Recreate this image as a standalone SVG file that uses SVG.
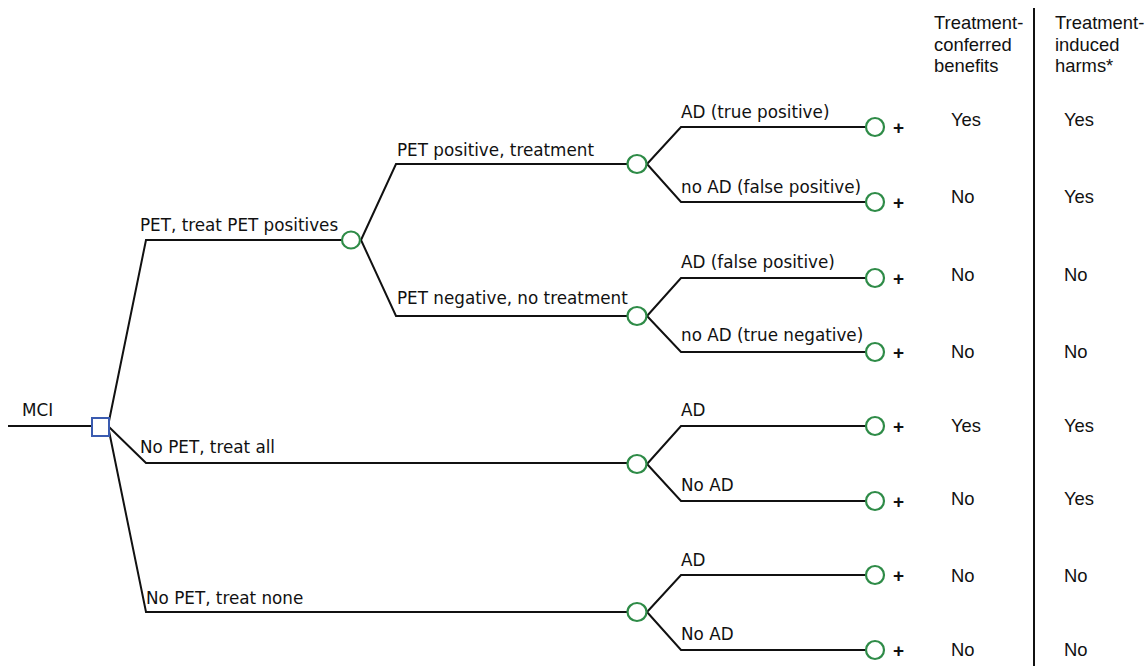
<svg xmlns="http://www.w3.org/2000/svg" width="1148" height="666" viewBox="0 0 1148 666">
<style>
.l{stroke:#111;stroke-width:2;fill:none}
.c{stroke:#2e8b47;stroke-width:2.2;fill:#fff}
.t{font-family:"DejaVu Sans",sans-serif;font-size:16.8px;fill:#111}
.h{font-family:"Liberation Sans",Arial,sans-serif;font-size:18.4px;fill:#111}
.p{font-family:"Liberation Sans",Arial,sans-serif;font-size:19px;font-weight:bold;fill:#111}
</style>
<rect width="1148" height="666" fill="#fff"/>
<g id="connectors">
<path class="l" d="M8 426H92"/>
<path class="l" d="M108 426L146 240H342M108 426L146 463H627M108 426L146 612H627"/>
<path class="l" d="M361 240L396 164H627M361 240L396 316H627"/>
<path class="l" d="M647 164L681 127H866M647 164L681 202H866"/>
<path class="l" d="M647 316L681 278H866M647 316L681 352H866"/>
<path class="l" d="M647 464L681 426H866M647 464L681 501H866"/>
<path class="l" d="M647 612L681 575H866M647 612L681 650H866"/>
<path class="l" d="M1034 8V666"/>
</g>
<g id="n-mci"><rect x="92" y="418" width="17" height="18" fill="#fff" stroke="#3a5bb0" stroke-width="2"/><text class="t" x="22" y="416">MCI</text></g>
<g id="n-pet"><ellipse class="c" cx="351" cy="240" rx="9" ry="8.5"/><text class="t" x="140" y="231">PET, treat PET positives</text></g>
<g id="n-petpos"><ellipse class="c" cx="637" cy="164" rx="9.5" ry="9"/><text class="t" x="397" y="156">PET positive, treatment</text></g>
<g id="n-petneg"><ellipse class="c" cx="637" cy="316" rx="9.5" ry="9"/><text class="t" x="397" y="304">PET negative, no treatment</text></g>
<g id="n-all"><ellipse class="c" cx="637" cy="464" rx="9.5" ry="9"/><text class="t" x="140" y="453">No PET, treat all</text></g>
<g id="n-none"><ellipse class="c" cx="637" cy="612" rx="9.5" ry="9"/><text class="t" x="146" y="604">No PET, treat none</text></g>
<g id="e1"><ellipse class="c" cx="875" cy="127" rx="9" ry="9"/><text class="p" x="893" y="134">+</text><text class="t" x="681" y="118">AD (true positive)</text><text class="h" x="951" y="126">Yes</text><text class="h" x="1064" y="126">Yes</text></g>
<g id="e2"><ellipse class="c" cx="875" cy="202" rx="9" ry="9"/><text class="p" x="893" y="209">+</text><text class="t" x="681" y="193">no AD (false positive)</text><text class="h" x="951" y="203">No</text><text class="h" x="1064" y="203">Yes</text></g>
<g id="e3"><ellipse class="c" cx="875" cy="278" rx="9" ry="9"/><text class="p" x="893" y="285">+</text><text class="t" x="681" y="268">AD (false positive)</text><text class="h" x="951" y="281">No</text><text class="h" x="1064" y="281">No</text></g>
<g id="e4"><ellipse class="c" cx="875" cy="352" rx="9" ry="9"/><text class="p" x="893" y="359">+</text><text class="t" x="681" y="341">no AD (true negative)</text><text class="h" x="951" y="358">No</text><text class="h" x="1064" y="358">No</text></g>
<g id="e5"><ellipse class="c" cx="875" cy="426" rx="9" ry="9"/><text class="p" x="893" y="433">+</text><text class="t" x="681" y="416">AD</text><text class="h" x="951" y="432">Yes</text><text class="h" x="1064" y="432">Yes</text></g>
<g id="e6"><ellipse class="c" cx="875" cy="501" rx="9" ry="9"/><text class="p" x="893" y="508">+</text><text class="t" x="681" y="491">No AD</text><text class="h" x="951" y="505">No</text><text class="h" x="1064" y="505">Yes</text></g>
<g id="e7"><ellipse class="c" cx="875" cy="575" rx="9" ry="9"/><text class="p" x="893" y="582">+</text><text class="t" x="681" y="566">AD</text><text class="h" x="951" y="582">No</text><text class="h" x="1064" y="582">No</text></g>
<g id="e8"><ellipse class="c" cx="875" cy="650" rx="9" ry="9"/><text class="p" x="893" y="657">+</text><text class="t" x="681" y="640">No AD</text><text class="h" x="951" y="656">No</text><text class="h" x="1064" y="656">No</text></g>
<g id="hdr1"><text class="h" x="934" y="29">Treatment-</text><text class="h" x="934" y="51">conferred</text><text class="h" x="934" y="72">benefits</text></g>
<g id="hdr2"><text class="h" x="1055" y="29">Treatment-</text><text class="h" x="1055" y="51">induced</text><text class="h" x="1055" y="72">harms*</text></g>
</svg>
